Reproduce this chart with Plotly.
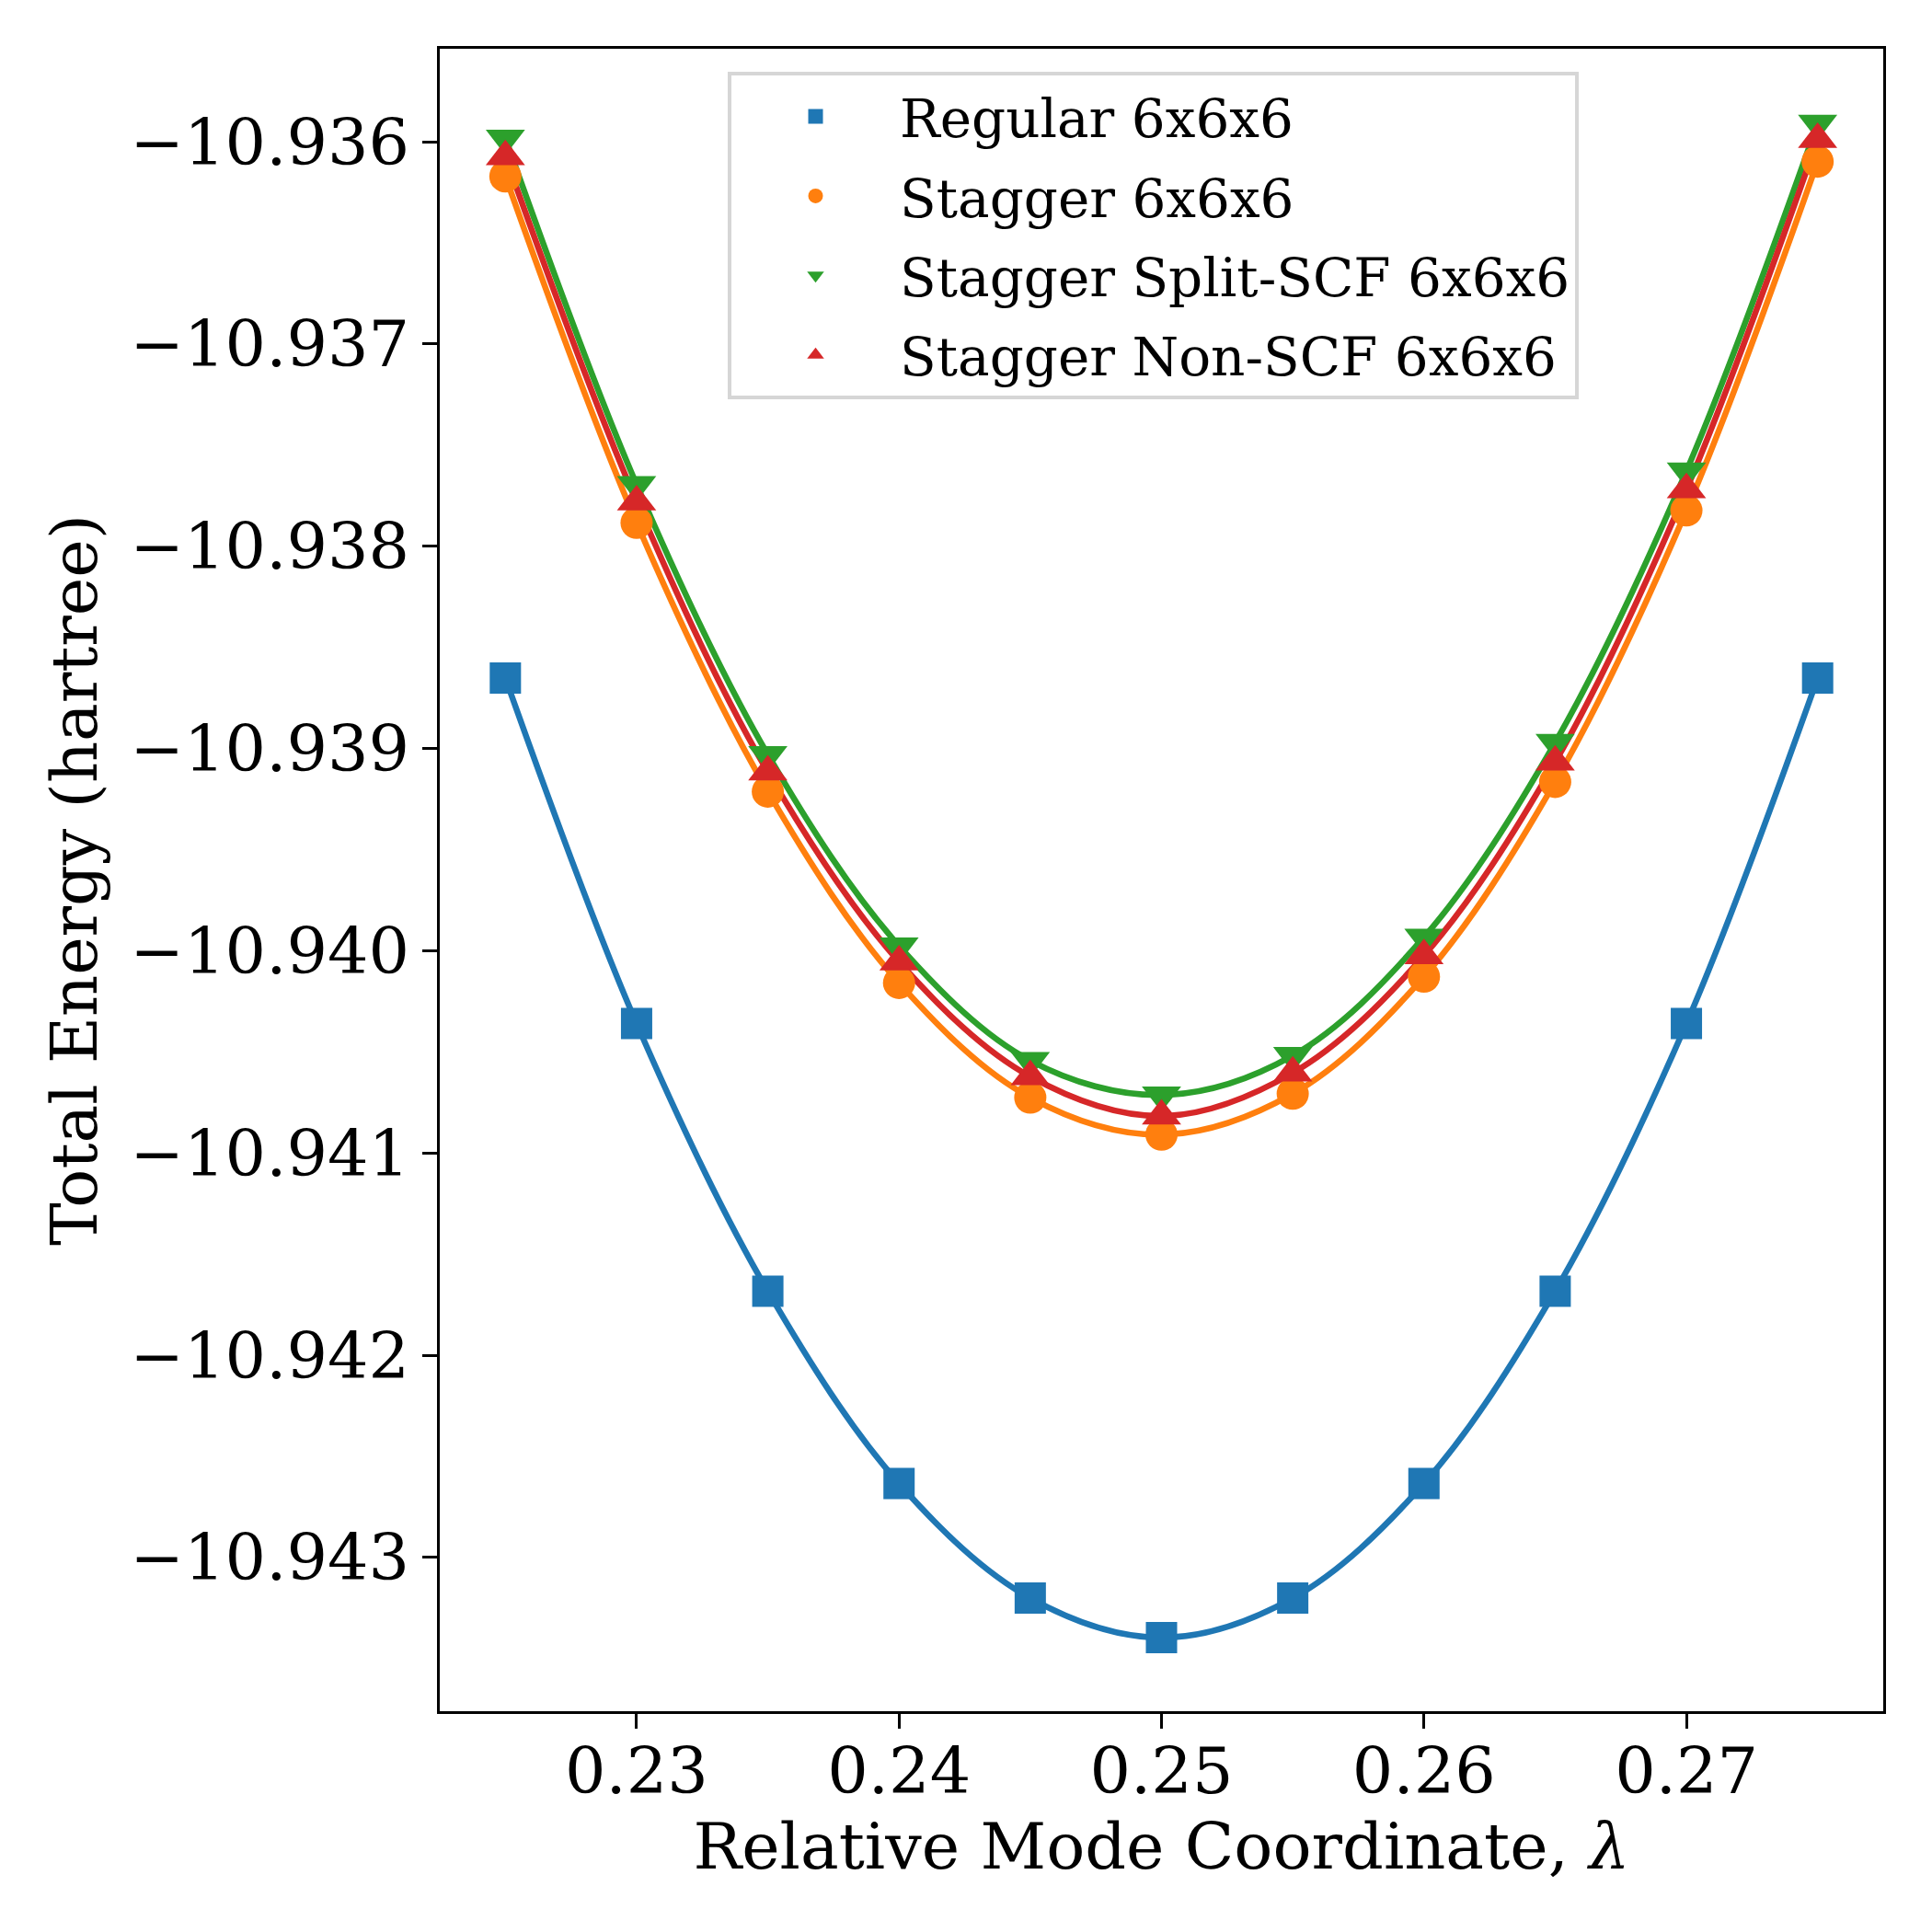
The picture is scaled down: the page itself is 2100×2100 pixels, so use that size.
import plotly.graph_objects as go

lam = [0.225, 0.230, 0.235, 0.240, 0.245, 0.250, 0.255, 0.260, 0.265, 0.270, 0.275]

regular = [-10.938652, -10.940360, -10.941683, -10.942634, -10.943201, -10.943396,
           -10.943201, -10.942634, -10.941683, -10.940360, -10.938652]
stagger = [-10.936171, -10.937884, -10.939213, -10.940159, -10.940726, -10.940909,
           -10.940707, -10.940128, -10.939165, -10.937823, -10.936098]
split_scf = [-10.935982, -10.937695, -10.939030, -10.939976, -10.940543, -10.940713,
             -10.940518, -10.939933, -10.938970, -10.937628, -10.935909]
non_scf = [-10.936073, -10.937780, -10.939116, -10.940055, -10.940622, -10.940817,
           -10.940604, -10.940024, -10.939067, -10.937720, -10.935988]

xticks = [0.23, 0.24, 0.25, 0.26, 0.27]
xticklabels = ["0.23", "0.24", "0.25", "0.26", "0.27"]
yticks = [-10.936, -10.937, -10.938, -10.939, -10.940, -10.941, -10.942, -10.943]
yticklabels = ["\u221210.936", "\u221210.937", "\u221210.938", "\u221210.939",
               "\u221210.940", "\u221210.941", "\u221210.942", "\u221210.943"]

series = [
    ("Regular 6x6x6", regular, "#1f77b4", "square", 34),
    ("Stagger 6x6x6", stagger, "#ff7f0e", "circle", 35),
    ("Stagger Split-SCF 6x6x6", split_scf, "#2ca02c", "triangle-down", 37),
    ("Stagger Non-SCF 6x6x6", non_scf, "#d62728", "triangle-up", 37),
]

fig = go.Figure()
for name, vals, col, sym, sz in series:
    # smooth fit curve (no legend entry)
    fig.add_trace(go.Scatter(x=lam, y=vals, mode="lines",
                             line=dict(color=col, width=6.5, shape="spline", smoothing=1.0),
                             showlegend=False, hoverinfo="skip"))
for name, vals, col, sym, sz in series:
    fig.add_trace(go.Scatter(x=lam, y=vals, mode="markers", name=name, legendgroup=name,
                             marker=dict(symbol=sym, size=sz, color=col, line=dict(width=0))))

font = "DejaVu Serif"
fig.update_layout(
    width=2100, height=2100,
    margin=dict(l=470, r=61, t=45, b=248),
    plot_bgcolor="white", paper_bgcolor="white",
    font=dict(family=font, size=70, color="black"),
    legend=dict(x=0.1995, y=0.986, xanchor="left", yanchor="top",
                font=dict(family=font, size=58),
                bgcolor="rgba(255,255,255,0.8)", bordercolor="#d6d6d6", borderwidth=4,
                itemwidth=173, tracegroupgap=8),
)
fig.update_xaxes(
    range=[0.2225, 0.2775], tickvals=xticks, ticktext=xticklabels,
    ticks="outside", ticklen=16, tickwidth=3, tickcolor="black",
    showline=True, linewidth=3, linecolor="black", mirror=True,
    showgrid=False, zeroline=False, tickfont=dict(size=70), ticklabelstandoff=-14,
    title=dict(text="Relative Mode Coordinate, <i>\u03bb</i>", font=dict(size=70), standoff=15),
)
fig.update_yaxes(
    range=[-10.94376, -10.93554], tickvals=yticks, ticktext=yticklabels,
    ticks="outside", ticklen=16, tickwidth=3, tickcolor="black",
    showline=True, linewidth=3, linecolor="black", mirror=True,
    showgrid=False, zeroline=False, tickfont=dict(size=70),
    title=dict(text="Total Energy (hartree)", font=dict(size=70), standoff=13),
)

fig.write_html("out.html")
